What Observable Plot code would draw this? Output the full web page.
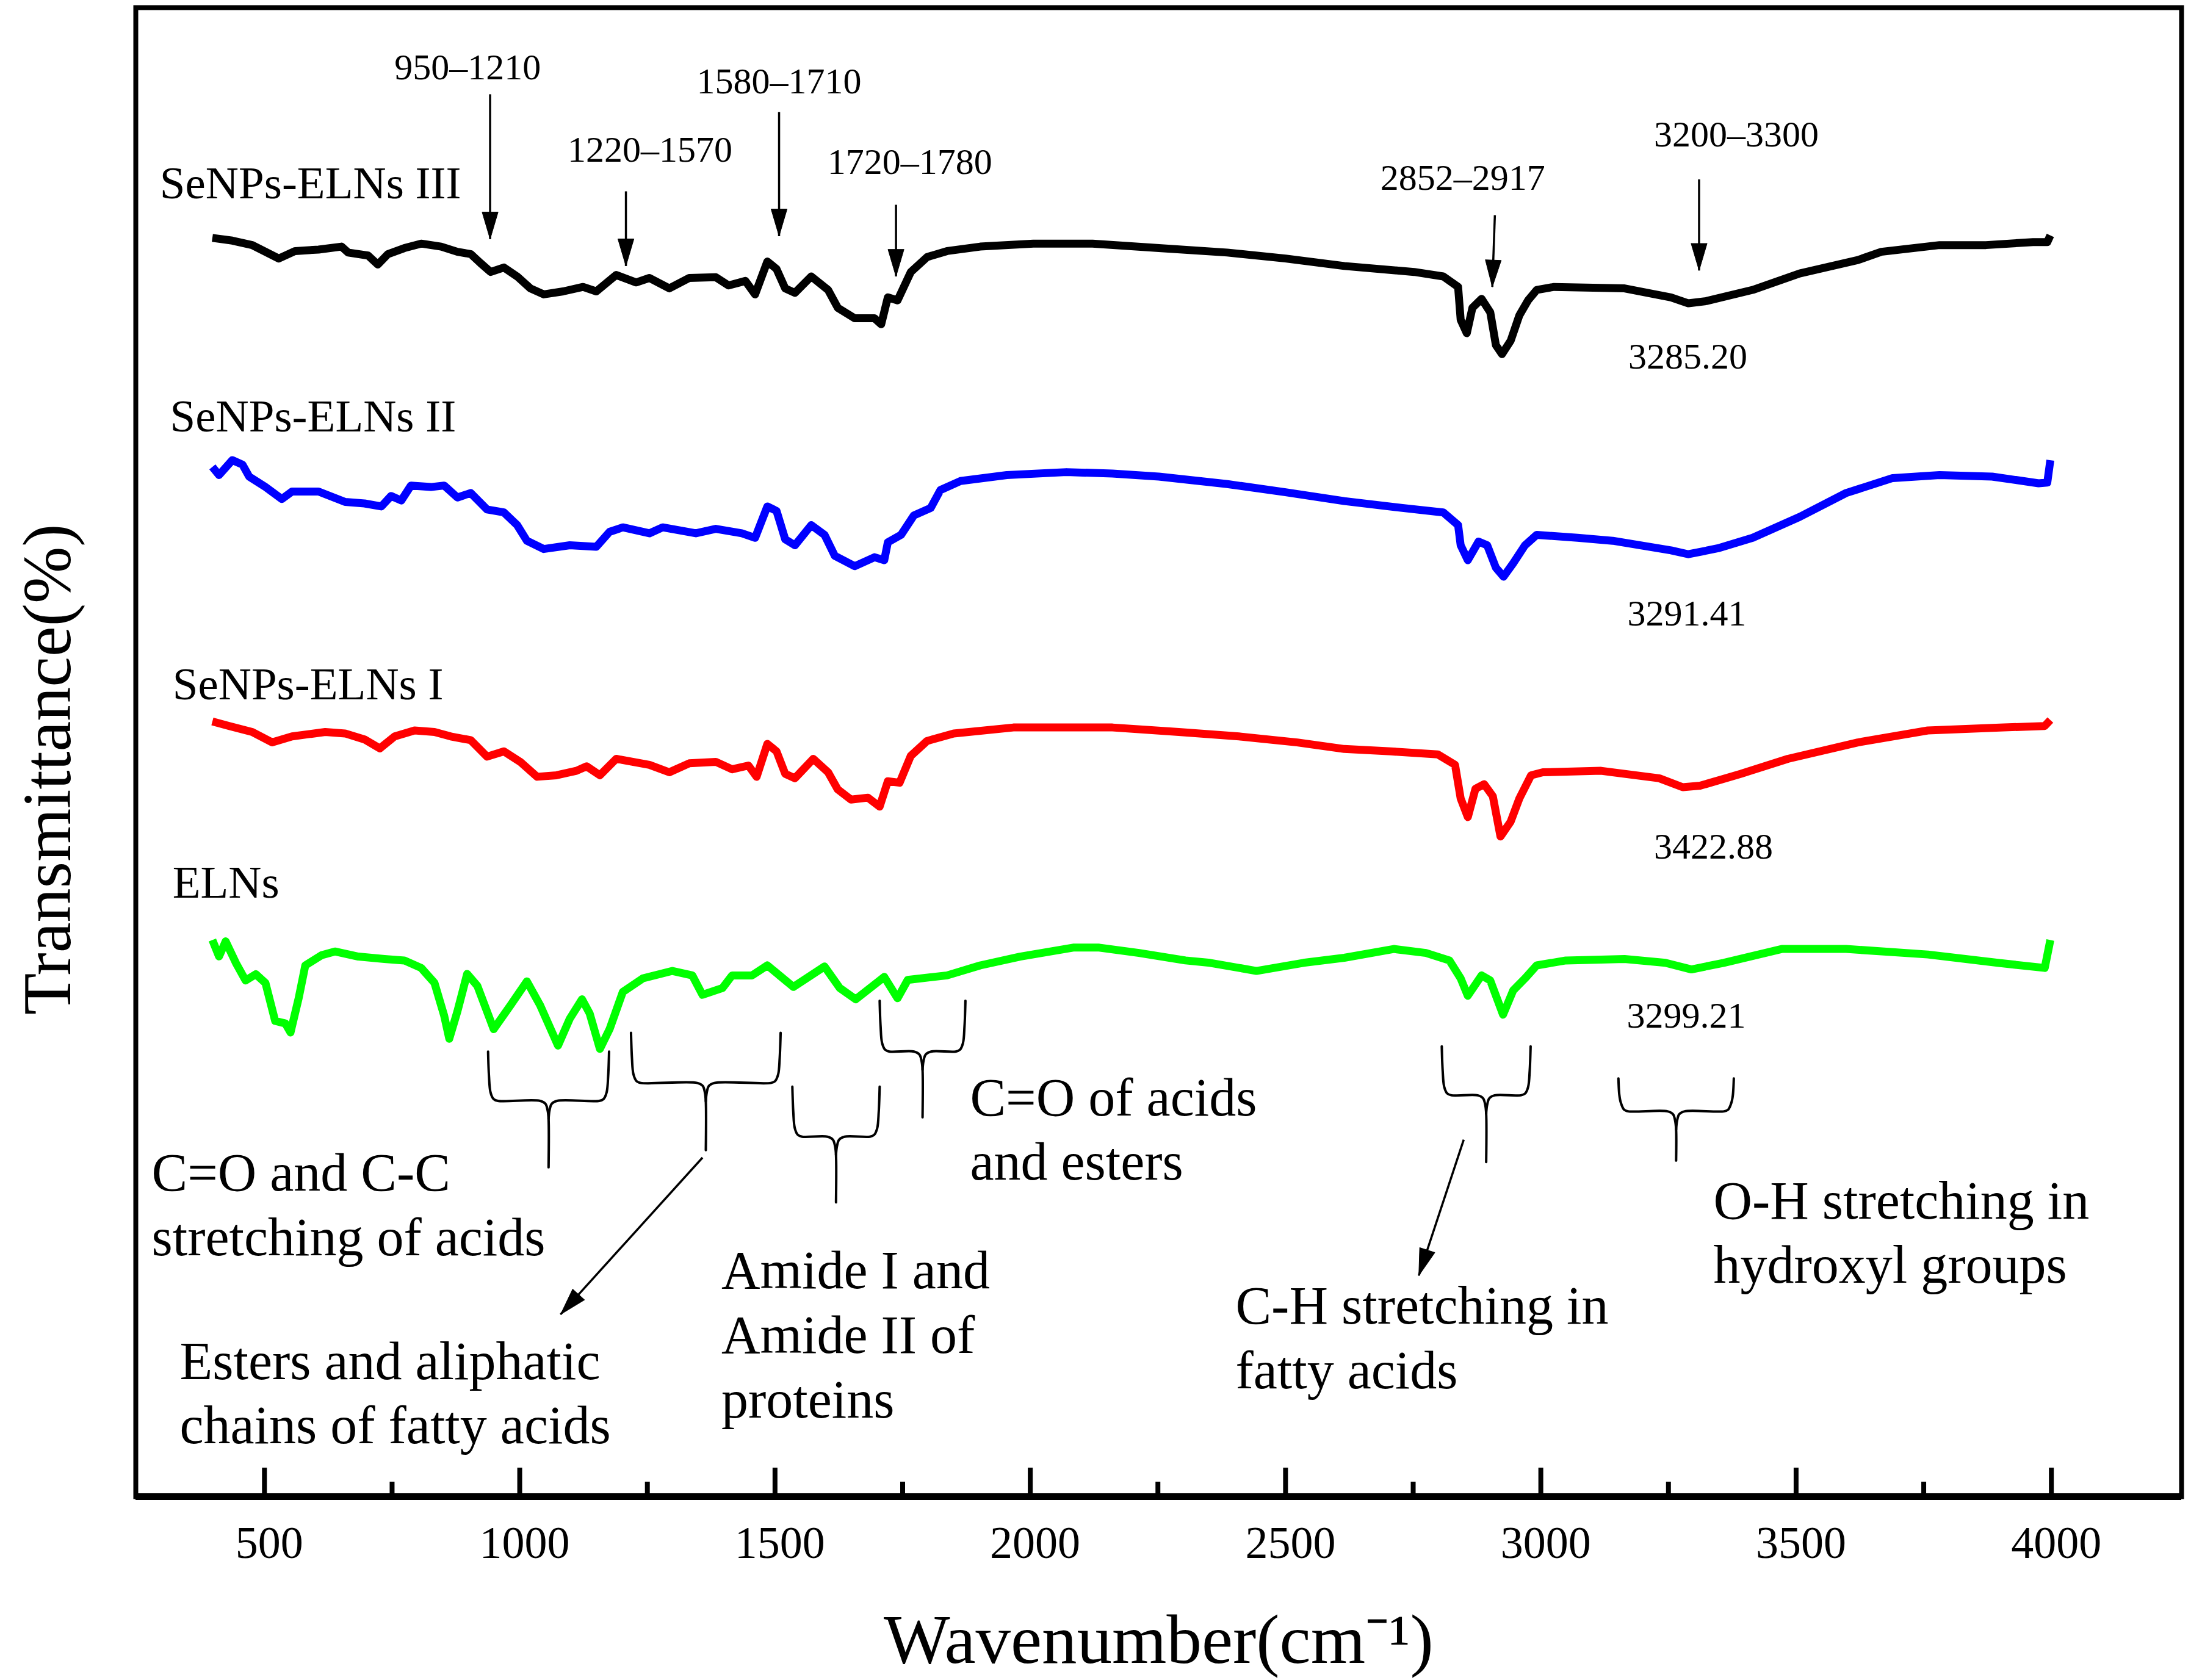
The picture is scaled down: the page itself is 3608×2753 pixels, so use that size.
<!DOCTYPE html>
<html>
<head>
<meta charset="utf-8">
<script src="https://cdn.jsdelivr.net/npm/d3@7"></script>
<script src="https://cdn.jsdelivr.net/npm/@observablehq/plot@0.6"></script>
<style>html,body{margin:0;padding:0;background:#fff;overflow:hidden}</style>
</head>
<body>
<div id="chart"></div>
<script>
// ---- Spectra (wavenumber, stacked transmittance) ----
const seNPsIII = [[398,84.58],[437,84.4],[476,84.1],[502,83.65],[528,83.2],[560,83.7],[606,83.8],[651,84.0],[664,83.6],[703,83.4],[722,82.8],[742,83.5],[774,83.9],[807,84.2],[846,84.0],[878,83.65],[904,83.5],[923,82.9],[943,82.3],[969,82.6],[995,82.0],[1021,81.2],[1047,80.8],[1085,81.0],[1124,81.3],[1150,81.0],[1189,82.1],[1228,81.6],[1254,81.9],[1293,81.2],[1332,81.9],[1384,81.95],[1409,81.4],[1442,81.7],[1461,80.8],[1485,83.0],[1503,82.5],[1520,81.2],[1539,80.9],[1571,82.0],[1604,81.1],[1623,79.9],[1656,79.2],[1695,79.2],[1708,78.8],[1721,80.6],[1740,80.4],[1766,82.3],[1798,83.3],[1837,83.7],[1902,84.0],[2006,84.2],[2122,84.2],[2252,83.9],[2386,83.6],[2500,83.2],[2615,82.7],[2752,82.3],[2809,82.0],[2838,81.3],[2843,79.1],[2855,78.2],[2866,79.9],[2884,80.5],[2901,79.6],[2912,77.4],[2924,76.8],[2941,77.7],[2958,79.4],[2975,80.4],[2992,81.1],[3026,81.3],[3164,81.2],[3255,80.6],[3289,80.2],[3324,80.35],[3415,81.1],[3507,82.2],[3621,83.1],[3667,83.65],[3781,84.1],[3872,84.1],[3964,84.3],[3992,84.3],[3998,84.75]];
const seNPsII = [[398,69.25],[411,68.7],[437,69.7],[457,69.4],[470,68.6],[502,67.9],[534,67.1],[554,67.6],[606,67.6],[658,66.9],[696,66.8],[729,66.6],[748,67.3],[768,67.0],[787,68.0],[826,67.9],[852,68.0],[878,67.2],[904,67.5],[936,66.4],[969,66.2],[995,65.35],[1014,64.3],[1047,63.75],[1098,64.0],[1150,63.9],[1176,64.9],[1202,65.2],[1254,64.8],[1280,65.2],[1345,64.8],[1384,65.1],[1435,64.8],[1461,64.5],[1485,66.6],[1503,66.3],[1520,64.4],[1539,64.0],[1571,65.35],[1597,64.7],[1617,63.3],[1656,62.6],[1695,63.2],[1714,63.0],[1721,64.2],[1747,64.7],[1772,66.0],[1805,66.5],[1824,67.7],[1863,68.3],[1954,68.7],[2071,68.9],[2161,68.8],[2252,68.6],[2386,68.1],[2500,67.55],[2615,66.96],[2729,66.5],[2809,66.2],[2838,65.35],[2843,64.0],[2857,63.0],[2878,64.25],[2895,64.0],[2912,62.5],[2927,61.9],[2946,62.8],[2969,64.0],[2992,64.7],[3072,64.5],[3141,64.3],[3255,63.66],[3289,63.4],[3347,63.8],[3415,64.5],[3507,65.9],[3598,67.5],[3689,68.5],[3781,68.7],[3884,68.6],[3975,68.15],[3992,68.2],[3998,69.7]];
const seNPsI = [[398,52.2],[431,51.9],[476,51.5],[515,50.8],[554,51.2],[619,51.5],[658,51.4],[696,51.0],[726,50.4],[755,51.2],[794,51.6],[833,51.5],[865,51.2],[904,50.95],[936,49.85],[969,50.2],[1001,49.5],[1034,48.5],[1072,48.6],[1111,48.9],[1131,49.2],[1157,48.6],[1189,49.7],[1254,49.3],[1293,48.8],[1332,49.4],[1384,49.5],[1416,49.0],[1448,49.25],[1464,48.5],[1485,50.7],[1503,50.2],[1520,48.7],[1539,48.4],[1575,49.7],[1604,48.8],[1623,47.65],[1649,46.97],[1682,47.1],[1705,46.5],[1721,48.2],[1744,48.1],[1766,49.9],[1798,50.9],[1850,51.4],[1967,51.8],[2161,51.8],[2291,51.5],[2409,51.2],[2523,50.8],[2615,50.36],[2706,50.2],[2798,50.0],[2832,49.3],[2843,47.05],[2857,45.8],[2872,47.7],[2889,48.0],[2906,47.2],[2921,44.5],[2941,45.5],[2958,47.05],[2981,48.6],[3004,48.8],[3118,48.9],[3232,48.4],[3278,47.8],[3312,47.9],[3392,48.7],[3484,49.7],[3621,50.8],[3758,51.6],[3907,51.8],[3987,51.9],[3998,52.3]];
const elns = [[398,37.57],[411,36.47],[424,37.48],[444,36.04],[463,34.86],[483,35.28],[502,34.69],[521,32.15],[541,31.98],[551,31.38],[567,33.67],[580,35.87],[612,36.55],[638,36.8],[684,36.46],[735,36.3],[774,36.2],[807,35.7],[833,34.7],[852,32.5],[862,30.96],[878,32.8],[897,35.3],[917,34.5],[949,31.6],[982,33.2],[1014,34.8],[1040,33.2],[1075,30.5],[1098,32.3],[1122,33.6],[1137,32.65],[1157,30.28],[1176,31.6],[1202,34.1],[1241,35.0],[1299,35.5],[1338,35.2],[1358,33.9],[1397,34.35],[1416,35.2],[1455,35.2],[1485,35.87],[1536,34.43],[1597,35.8],[1627,34.35],[1658,33.6],[1714,35.1],[1740,33.67],[1760,34.9],[1837,35.2],[1902,35.87],[1980,36.46],[2084,37.06],[2135,37.06],[2213,36.7],[2304,36.2],[2352,36.04],[2443,35.5],[2535,36.04],[2615,36.38],[2712,36.97],[2775,36.7],[2821,36.2],[2843,35.0],[2857,33.84],[2884,35.2],[2901,34.86],[2926,32.57],[2946,34.2],[2969,35.0],[2992,35.87],[3049,36.2],[3164,36.3],[3244,36.04],[3295,35.6],[3358,36.04],[3472,36.97],[3598,36.97],[3758,36.6],[3895,36.04],[3987,35.7],[3998,37.57]];

// ---- Axis ticks ----
const majorTicks = [500, 1000, 1500, 2000, 2500, 3000, 3500, 4000];
const minorTicks = [750, 1250, 1750, 2250, 2750, 3250, 3750];

// ---- Labels ----
const seriesNames = ["SeNPs-ELNs III", "SeNPs-ELNs II", "SeNPs-ELNs I", "ELNs"];
const seriesColors = ["#000000", "#0000ff", "#ff0000", "#00ff00"];
const seriesLabelX = [295, 315, 320, 320];
const seriesLabelY = [88.2, 72.6, 54.65, 41.4];

const rangeTexts = ["950–1210", "1220–1570", "1580–1710", "1720–1780", "2852–2917", "3200–3300"];
const rangeTextX = [898, 1255, 1508, 1764, 2847, 3383];
const rangeTextY = [96.0, 90.45, 95.05, 89.65, 88.6, 91.5];
const rangeArrowX1 = [942, 1208, 1508, 1737, 2910, 3310];
const rangeArrowX2 = [942, 1208, 1508, 1737, 2905, 3310];
const rangeArrowY1 = [94.2, 87.7, 93.0, 86.8, 86.1, 88.5];
const rangeArrowY2 = [84.5, 82.7, 84.7, 82.0, 81.3, 82.4];

const peakTexts = ["3285.20", "3291.41", "3422.88", "3299.21"];
const peakTextX = [3288, 3286, 3338, 3285];
const peakTextY = [76.6, 59.4, 43.8, 32.5];

const groupTexts = ["C=O and C-C\nstretching of acids", "Esters and aliphatic\nchains of fatty acids", "Amide I and\nAmide II of\nproteins", "C=O of acids\nand esters", "C-H stretching in\nfatty acids", "O-H stretching in\nhydroxyl groups"];
const groupTextX = [279, 334, 1395, 1882, 2402, 3338];
const groupTextY = [20.0, 7.4, 11.3, 25.05, 11.1, 18.15];

// braces: x1, x2, top, bar, stem bottom
const braceX1 = [938, 1218, 1534, 1705, 2806, 3152];
const braceX2 = [1175, 1511, 1705, 1873, 2980, 3378];
const braceTop = [30.1, 31.35, 27.75, 33.5, 30.45, 28.3];
const braceBar = [26.8, 28.0, 24.4, 30.1, 27.17, 26.1];
const braceStem = [22.35, 23.5, 20.0, 25.7, 22.7, 22.8];

const pointerX1 = [1358, 2849];
const pointerY1 = [23.0, 24.2];
const pointerX2 = [1080, 2761];
const pointerY2 = [12.5, 15.1];

const xTitle = "Wavenumber(cm⁻¹)";
const yTitle = "Transmittance(%)";

// ---- Layout ----
const W = 3608, H = 2753, mL = 222, mR = 34, mT = 12, mB = 301;
const xDomain = [248, 4255], yDomain = [0.3, 100];
const kx = (W - mL - mR) / (xDomain[1] - xDomain[0]);
const ky = (H - mT - mB) / (yDomain[1] - yDomain[0]);
const FONT = "Liberation Serif, Times New Roman, serif";

const seriesData = [seNPsIII, seNPsII, seNPsI, elns];

const rangeArrows = rangeTexts.map((t, i) => ({x1: rangeArrowX1[i], x2: rangeArrowX2[i], y1: rangeArrowY1[i], y2: rangeArrowY2[i]}));
const pointers = pointerX1.map((x, i) => ({x1: x, y1: pointerY1[i], x2: pointerX2[i], y2: pointerY2[i]}));
const allArrows = rangeArrows.concat(pointers);
const angle = d => {
  const dx = (d.x2 - d.x1) * kx, dy = -(d.y2 - d.y1) * ky;
  return Math.atan2(dx, -dy) * 180 / Math.PI;
};
const spike = {draw(ctx, l, r) { ctx.moveTo(-r, 0); ctx.lineTo(0, -l); ctx.lineTo(r, 0); ctx.closePath(); }};

// brace polylines
const braceRows = [];
braceX1.forEach((x1, i) => {
  const x2 = braceX2[i], top = braceTop[i], bar = braceBar[i], stem = braceStem[i];
  const C = (x1 + x2) / 2;
  const Hpx = (top - bar) * ky;
  const half = (C - x1) * kx;
  const P = (x0, dxp, dyp) => ({x: x0 + dxp / kx, y: bar - dyp / ky});
  const left = [P(x1, 0, -Hpx), P(x1, 1.5, -Hpx * 0.5), P(x1, 4, -14), P(x1, 9, -3), P(x1, 16, 0), P(x1, half - 14, 0), P(x1, half - 5, 5), P(x1, half - 1.5, 16), P(x1, half, 30), {x: C, y: stem}];
  const right = [P(x2, 0, -Hpx), P(x2, -1.5, -Hpx * 0.5), P(x2, -4, -14), P(x2, -9, -3), P(x2, -16, 0), P(x2, -(half - 14), 0), P(x2, -(half - 5), 5), P(x2, -(half - 1.5), 16), P(x2, -half, 30)];
  left.forEach(p => braceRows.push({id: `L${i}`, ...p}));
  right.forEach(p => braceRows.push({id: `R${i}`, ...p}));
});

const marks = [
  Plot.frame({stroke: "black", strokeWidth: 8}),
  Plot.ruleY([yDomain[0]], {stroke: "black", strokeWidth: 11}),
  Plot.ruleX(majorTicks, {x: d => d, y1: yDomain[0], y2: yDomain[0] + 47 / ky, strokeWidth: 8}),
  Plot.ruleX(minorTicks, {x: d => d, y1: yDomain[0], y2: yDomain[0] + 24 / ky, strokeWidth: 8}),
  Plot.text(majorTicks, {x: d => d, frameAnchor: "bottom", lineAnchor: "middle", textAnchor: "middle", dx: 8, dy: 77, text: d => String(d), fontSize: 74, fontFamily: FONT}),
  Plot.text([xTitle], {frameAnchor: "bottom", lineAnchor: "middle", textAnchor: "middle", dy: 236, text: d => d, fontSize: 115, fontFamily: FONT}),
  Plot.text([yTitle], {x: () => 77, y: () => 49.0, rotate: -90, lineAnchor: "middle", textAnchor: "middle", text: d => d, fontSize: 112, fontFamily: FONT}),
];
seriesData.forEach((data, i) => {
  marks.push(Plot.line(data, {x: d => d[0], y: d => d[1], stroke: seriesColors[i], strokeWidth: 13, strokeLinejoin: "round", strokeLinecap: "butt"}));
});
marks.push(
  Plot.text(seriesNames, {x: (d, i) => seriesLabelX[i], y: (d, i) => seriesLabelY[i], text: d => d, textAnchor: "start", fontSize: 75, fontFamily: FONT}),
  Plot.text(rangeTexts, {x: (d, i) => rangeTextX[i], y: (d, i) => rangeTextY[i], text: d => d, fontSize: 60, fontFamily: FONT}),
  Plot.text(peakTexts, {x: (d, i) => peakTextX[i], y: (d, i) => peakTextY[i], text: d => d, fontSize: 60, fontFamily: FONT}),
  Plot.text(groupTexts, {x: (d, i) => groupTextX[i], y: (d, i) => groupTextY[i], text: d => d, textAnchor: "start", lineHeight: 1.2, fontSize: 88, fontFamily: FONT}),
  Plot.line(braceRows, {x: "x", y: "y", z: "id", curve: "catmull-rom", stroke: "black", strokeWidth: 4}),
  Plot.link(allArrows, {x1: "x1", y1: "y1", x2: "x2", y2: "y2", stroke: "black", strokeWidth: 3.5}),
  Plot.vector(allArrows, {x: "x2", y: "y2", rotate: angle, length: 44, r: 13, shape: spike, anchor: "end", fill: "black", stroke: "black", strokeWidth: 1})
);

const chart = Plot.plot({
  width: W, height: H,
  marginLeft: mL, marginRight: mR, marginTop: mT, marginBottom: mB,
  x: {domain: xDomain, axis: null},
  y: {domain: yDomain, axis: null},
  style: {background: "#fff", color: "black", fontFamily: FONT},
  marks
});
document.getElementById("chart").appendChild(chart);
</script>
</body>
</html>
